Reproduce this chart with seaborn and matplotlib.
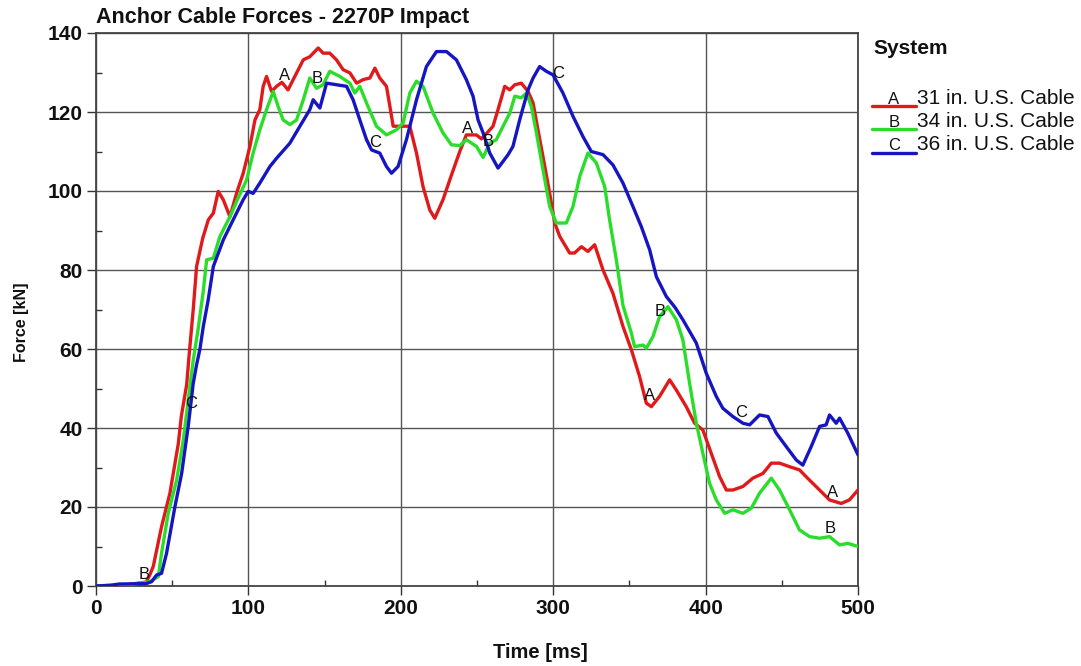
import numpy as np
import pandas as pd
import matplotlib
matplotlib.use("Agg")
import matplotlib.pyplot as plt
from matplotlib.lines import Line2D
from matplotlib.ticker import MultipleLocator
import seaborn as sns

# --- anchor cable force histories (time in ms, force in kN) ---
time_a = [0, 20, 33, 35.5, 37.6, 43, 48.5, 54, 56, 59.5, 61, 63.8, 66, 70, 73.7, 77, 80.2,
          83.5, 87.9, 92.2, 96.6, 101, 104.3, 107.5, 109.7, 111.9, 115.2, 118.5, 122, 126,
          129.4, 136, 140.3, 145.8, 149, 153.4, 157.8, 162.2, 166.6, 171, 175.3, 179.7, 183,
          186.2, 190.6, 192.8, 195, 199.3, 205.9, 210.3, 214.6, 219, 222.3, 227.7, 233.2,
          238.7, 243, 249.6, 252.9, 257.3, 260.5, 263.8, 268.2, 271.5, 274.8, 279.1, 283.5,
          286.8, 290, 293.3, 297.7, 301, 304.3, 310.8, 314, 318.5, 322.8, 327.2, 332.7, 339.2,
          345.8, 351.3, 356.7, 361.1, 364.4, 369.8, 376.4, 380.8, 387.3, 392.8, 398.2, 403.7,
          409.2, 413.6, 417.9, 424.5, 431, 437.6, 443.1, 448.5, 455.1, 461.6, 468.2, 474.8,
          481.3, 489, 494.4, 500]
force_a = [0, 0.3, 1, 3, 5, 15, 23.5, 36, 43, 51, 58, 70, 80.9, 88, 92.7, 94.4, 99.9,
           97.8, 93.5, 99.4, 104.5, 111.3, 118, 120.6, 126.5, 129, 125.2, 126.5, 127.5, 125.6,
           128.2, 133.2, 134, 136.2, 134.9, 134.9, 133.2, 130.7, 129.9, 127.3, 128.2, 128.6, 131.1,
           128.6, 126.5, 121.5, 116.4, 116.4, 116.4, 109.6, 101.1, 95.2, 93.1, 97.8, 104,
           110, 114.2, 114.2, 113.2, 115, 116.4, 120.6, 126.5, 125.6, 126.9, 127.3, 125.2,
           122.3, 115.5, 108.7, 99.4, 91.9, 88.5, 84.3, 84.3, 85.9, 84.7, 86.4, 80, 74.1,
           65.7, 59.8, 53, 46.3, 45.4, 48, 52.2, 49.6, 45.4, 41.2, 39.5, 33.6,
           27.7, 24.3, 24.3, 25.2, 27.3, 28.5, 31.1, 31.1, 30.2, 29.4, 26.8, 24.3,
           21.8, 20.9, 21.8, 24.3]

time_b = [0, 20, 35.4, 40.9, 43, 47.4, 52.9, 57.3, 61.6, 63.8, 67, 70.5, 72.6, 77, 81.3, 87.9,
          93, 98.8, 103.1, 107.5, 111.9, 116.3, 119.5, 122.8, 127.2, 131.6, 136, 140.3, 144.7,
          149, 153.4, 160, 166.6, 169.8, 173.1, 177.5, 184, 190.6, 197.2, 201.5, 205.9, 210.3,
          214.6, 221.2, 227.7, 233.2, 238.7, 243, 249.6, 254, 258.4, 262.7, 267.1, 271.5,
          274.8, 279.1, 282.4, 285.7, 289, 293.3, 297.7, 302, 308.6, 313, 317.4, 322.8, 328.3,
          333.8, 337, 341.4, 345.8, 351.3, 353.4, 358.9, 361.1, 365.4, 369.8, 375.3, 380.8,
          385.1, 389.5, 393.9, 398.2, 402.6, 407, 412.5, 417.9, 424.5, 430, 435.4, 443.1,
          448.5, 455.1, 461.6, 468.2, 474.8, 481.3, 487.9, 493.3, 500]
force_b = [0, 0.2, 1.1, 2.4, 8.3, 18.4, 26.8, 37, 50.5, 57.2, 65, 75, 82.6, 83, 88.5, 93.5,
           98, 102.8, 109.6, 115.5, 120.6, 125.2, 121.4, 118, 116.8, 118, 123.1, 128.6, 126,
           126.9, 130.3, 129, 127.3, 124.8, 126.5, 122.3, 116.4, 114.2, 115.5, 117.2, 124.8, 127.8,
           126.5, 119.7, 114.7, 111.7, 111.5, 113, 111.3, 108.5, 112.1, 113, 116.4, 119.7,
           124, 123.6, 124.8, 121.4, 114.7, 105.4, 96.1, 91.9, 91.9, 96.1, 103.7, 109.6, 107.1,
           101.1, 92.7, 82.6, 71, 64, 60.6, 61, 60.2, 63.1, 68.2, 70.7, 67.4,
           62.3, 51.3, 41.2, 33.6, 26, 21.8, 18.4, 19.3, 18.4, 19.7, 23.5, 27.3,
           24.3, 19.3, 14.2, 12.5, 12.1, 12.5, 10.4, 10.8, 10]

time_c = [0, 10, 15, 33, 36.5, 39.8, 43, 46.3, 51.8, 56.2, 60.5, 63.8, 66, 68.2, 70.4, 73.6,
          77, 83.5, 90, 96.6, 99.9, 103.1, 107.5, 114.1, 118.5, 127.2, 133.8, 140.3, 142.5,
          146.9, 151.3, 157.8, 164.4, 168.7, 173.1, 177.5, 180.8, 186.2, 190.6, 193.9, 198.2,
          203.7, 210.3, 216.8, 223.4, 230, 236.5, 243, 247.4, 250.7, 254, 258.4, 263.8, 270.4,
          273.6, 278, 283.5, 286.8, 291.1, 295.5, 299.9, 306.4, 313, 319.5, 325, 332.7, 339.2,
          345.8, 352.3, 357.8, 363.3, 367.7, 374.2, 380, 385.1, 393.9, 400.4, 407, 411.3, 417.9,
          424.5, 428.9, 435.4, 440.9, 446.4, 452.9, 459.5, 463.8, 469.3, 474.8, 479.1, 481.3,
          485.7, 487.9, 493.3, 500]
force_c = [0, 0.2, 0.5, 0.6, 1.1, 2.8, 3.2, 8.3, 20.1, 28.5, 40.4, 51.3, 56, 60, 65.7, 72.4,
           80.9, 87.6, 92.7, 97.8, 99.9, 99.4, 102, 106.2, 108.3, 112.1, 116.4, 120.6, 123.1,
           121, 127.3, 126.9, 126.5, 123.1, 118, 113, 110.4, 109.6, 106.2, 104.5, 106.2,
           113, 123.1, 131.5, 135.3, 135.3, 133.2, 128.2, 124, 118, 114.7, 109.6, 105.8, 109.2,
           111.3, 118, 125.6, 128.6, 131.5, 130.3, 129.4, 124.8, 118.9, 113.8, 110, 109.2, 106.6,
           102, 96.1, 91, 85.1, 78.3, 73.3, 70.5, 67.4, 61.5, 53.9, 48, 45, 42.9,
           41.2, 40.8, 43.3, 42.9, 38.7, 35.3, 31.9, 30.6, 35.3, 40.4, 40.8, 43.3,
           41.2, 42.5, 38.7, 33.2]

# times at which each curve carries its identifying letter
label_times_a = [122.6, 242.6, 362.0, 482.6]
label_times_b = [31.0, 144.0, 256.5, 369.0, 481.0]
label_times_c = [61.6, 182.3, 302.3, 422.3]

letters = ["A", "B", "C"]
cable_names = ["31 in. U.S. Cable", "34 in. U.S. Cable", "36 in. U.S. Cable"]
line_colors = ["#E01A1A", "#2ADD2A", "#1515C2"]

x_ticks = [0, 100, 200, 300, 400, 500]
y_ticks = [0, 20, 40, 60, 80, 100, 120, 140]

title_text = "Anchor Cable Forces - 2270P Impact"
x_label = "Time [ms]"
y_label = "Force [kN]"
legend_title = "System"

# ---------------------------------------------------------------
sns.set_theme(style="white")
plt.rcParams["font.family"] = ["Liberation Sans", "DejaVu Sans"]

times = [time_a, time_b, time_c]
forces = [force_a, force_b, force_c]
label_times = [label_times_a, label_times_b, label_times_c]

frames = []
for letter, t, f in zip(letters, times, forces):
    frames.append(pd.DataFrame({"Time": t, "Force": f, "System": letter}))
df = pd.concat(frames, ignore_index=True)

W, H = 1081, 666
fig = plt.figure(figsize=(W / 100, H / 100), dpi=100)
ax = fig.add_axes([96 / W, 1 - 586 / H, 762 / W, 553 / H])

sns.lineplot(data=df, x="Time", y="Force", hue="System",
             palette=dict(zip(letters, line_colors)), estimator=None, sort=False,
             legend=False, linewidth=2.4, ax=ax, zorder=3)

# curve identification letters
for letter, t, f, lts in zip(letters, times, forces, label_times):
    for lt in lts:
        yv = np.interp(lt, t, f)
        ax.annotate(letter, (lt, yv), xytext=(1, 6), textcoords="offset points",
                    ha="center", va="center", fontsize=12, color="#111111", zorder=4)

ax.set_xlim(0, 500)
ax.set_ylim(0, 140)
ax.set_xticks(x_ticks)
ax.set_yticks(y_ticks)
ax.xaxis.set_minor_locator(MultipleLocator(50))
ax.yaxis.set_minor_locator(MultipleLocator(10))
ax.tick_params(which="major", direction="out", length=6.5, width=1.0, color="#333333",
               pad=3, labelsize=15, left=True, bottom=True)
ax.tick_params(which="minor", direction="in", length=4.5, width=1.0, color="#333333",
               left=True, bottom=True)
for lab in ax.get_xticklabels() + ax.get_yticklabels():
    lab.set_fontweight("bold")
    lab.set_color("#111111")

ax.grid(True, which="major", color="#555555", linewidth=1.0)
ax.set_axisbelow(True)
for sp in ax.spines.values():
    sp.set_color("#444444")
    sp.set_linewidth(1.3)

ax.set_xlabel(x_label, fontsize=14.5, fontweight="bold", color="#111111")
ax.set_ylabel(y_label, fontsize=11.5, fontweight="bold", color="#111111")
ax.xaxis.set_label_coords((540 - 96) / 762, (586 - 653) / 553)
ax.xaxis.label.set_verticalalignment("center")
ax.yaxis.set_label_coords((22 - 96) / 762, (586 - 322) / 553)
ax.yaxis.label.set_verticalalignment("center")

ax.set_title(title_text, loc="left", fontsize=15.5, fontweight="bold", color="#111111", pad=7)

# legend block on the right
fig.text(873 / W, 1 - 48 / H, legend_title, fontsize=15, fontweight="bold",
         ha="left", va="center", color="#111111")
text_rows = [98, 121.5, 145]
line_rows = [106, 129, 153]
for letter, name, col, ty, ly in zip(letters, cable_names, line_colors, text_rows, line_rows):
    fig.add_artist(Line2D([872 / W, 916 / W], [1 - ly / H, 1 - ly / H],
                          color=col, linewidth=2.4, transform=fig.transFigure))
    fig.text(894 / W, 1 - (ty + 1) / H, letter, fontsize=12, ha="center", va="center",
             color="#111111")
    fig.text(917 / W, 1 - ty / H, name, fontsize=15, ha="left", va="center",
             color="#111111")

fig.savefig("out.png", dpi=100, facecolor="white")
